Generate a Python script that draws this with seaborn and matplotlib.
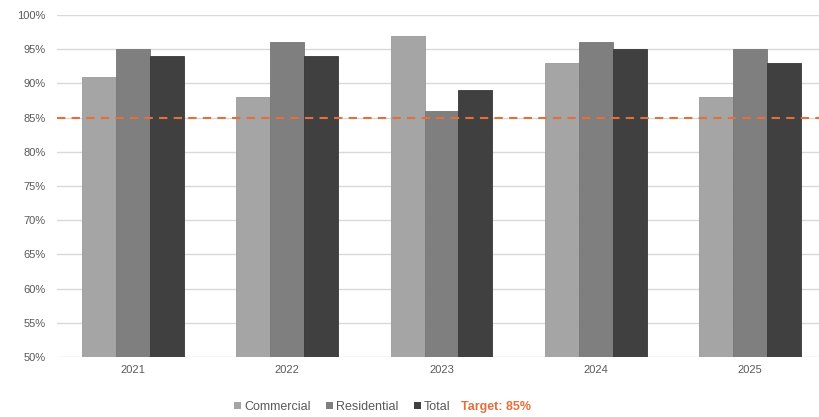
import matplotlib
matplotlib.use("Agg")
import matplotlib.pyplot as plt
from matplotlib.patches import Patch
import seaborn as sns
import pandas as pd

years = ["2021", "2022", "2023", "2024", "2025"]
series = ["Commercial", "Residential", "Total"]
commercial = [91, 88, 97, 93, 88]
residential = [95, 96, 86, 96, 95]
total = [94, 94, 89, 95, 93]
target = 85
yticks = [50, 55, 60, 65, 70, 75, 80, 85, 90, 95, 100]

colors = ["#a5a5a5", "#7f7f7f", "#404040"]
edges = ["#9a9a9a", "#777777", "#383838"]
orange = "#e2703c"
text_grey = "#595959"

df = pd.DataFrame({
    "Year": years * 3,
    "Series": [s for s in series for _ in years],
    "Value": commercial + residential + total,
})

sns.set_theme(style="white")
plt.rcParams["font.family"] = ["Liberation Sans", "DejaVu Sans"]

fig = plt.figure(figsize=(8.19, 4.17), dpi=100)
ax = fig.add_axes([57 / 819, 1 - 357 / 417, 1 - 57 / 819, (357 - 15) / 417])

sns.barplot(data=df, x="Year", y="Value", hue="Series", order=years,
            hue_order=series, palette=colors, width=0.66, gap=0,
            saturation=1, ax=ax, legend=False, linewidth=0.6)
for c, bars in zip(edges, ax.containers):
    for b in bars:
        b.set_edgecolor(c)

ax.set_ylim(50, 100)
ax.set_xlim(-0.4927, 4.447)
ax.set_yticks(yticks)
ax.set_yticklabels([f"{v}%" for v in yticks])
ax.yaxis.grid(True, color="#d9d9d9", linewidth=1)
ax.set_axisbelow(True)
for s in ax.spines.values():
    s.set_visible(False)
ax.tick_params(axis="both", length=0, labelsize=8, colors=text_grey)
ax.tick_params(axis="y", pad=8)
ax.tick_params(axis="x", pad=6)
ax.set_xlabel("")
ax.set_ylabel("")

# target threshold
ax.axhline(target, color=orange, linestyle=(0, (4, 3)), linewidth=1.5, zorder=5)

handles = [Patch(facecolor=c, edgecolor="none") for c in colors]
leg = fig.legend(handles, series, loc="center left",
                 bbox_to_anchor=(234 / 819, 1 - 407 / 417),
                 ncol=3, frameon=False, fontsize=9, handlelength=0.55,
                 handleheight=0.55, handletextpad=0.25, columnspacing=1.25,
                 borderpad=0, borderaxespad=0)
for t in leg.get_texts():
    t.set_color(text_grey)
fig.text(461 / 819, 1 - 407 / 417, f"Target: {target}%", color=orange,
         fontsize=9, fontweight="bold", ha="left", va="center")

fig.savefig("out.png", dpi=100)
